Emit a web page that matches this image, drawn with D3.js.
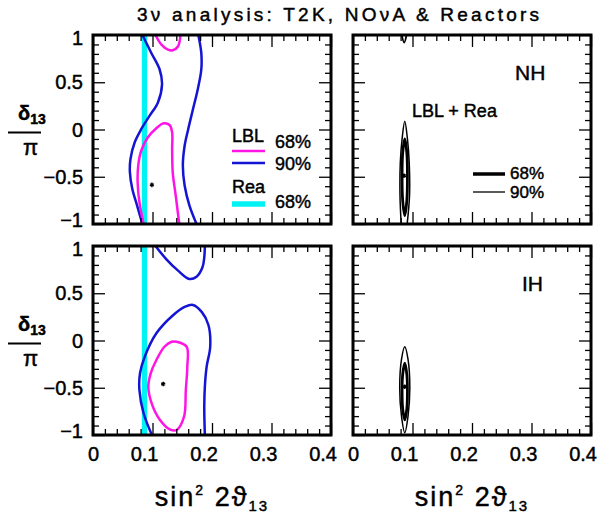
<!DOCTYPE html>
<html lang="en">
<meta charset="utf-8">
<head>
  <style>
    body { margin: 0; background: #fff; }
    svg text { font-family: "Liberation Sans", Arial, sans-serif; fill: #000; stroke: #000; stroke-width: 0.45px; }
    .tick line { stroke: #000; stroke-width: 1.3; }
  </style>
  <title></title>
</head>
<body>
<script src="https://d3js.org/d3.v7.min.js"></script>
<script>
  // axis ticks and labels
  const xTickValues = [0, 0.1, 0.2, 0.3, 0.4];
  const xTickLabels = ["0", "0.1", "0.2", "0.3", "0.4"];
  const yTickValues = [-1, -0.5, 0, 0.5, 1];
  const yTickLabels = ["\u22121", "\u22120.5", "0", "0.5", "1"];

  // reactor 68% band in sin^2 2theta13
  const reaBand = [0.082, 0.091];

  // contours: [sin^2 2theta13, delta13/pi]
  // NH, LBL only
  const nhLbl90Left = [[0.083, 1.0], [0.098, 0.81], [0.112, 0.635], [0.116, 0.477], [0.109, 0.284],
    [0.095, 0.144], [0.081, 0.003], [0.070, -0.137], [0.063, -0.312], [0.062, -0.453],
    [0.066, -0.628], [0.074, -0.803], [0.083, -1.0]];
  const nhLbl90Right = [[0.177, 1.0], [0.182, 0.81], [0.182, 0.635], [0.176, 0.424], [0.168, 0.214],
    [0.160, 0.003], [0.154, -0.172], [0.151, -0.382], [0.154, -0.593], [0.162, -0.803], [0.174, -1.0]];
  const nhLbl68Top = [[0.105, 1.0], [0.115, 0.898], [0.126, 0.845], [0.134, 0.838], [0.143, 0.881], [0.147, 1.0]];
  const nhLbl68Main = [[0.085, -1.0], [0.078, -0.768], [0.075, -0.558], [0.076, -0.382], [0.081, -0.225],
    [0.092, -0.084], [0.106, 0.011], [0.119, 0.066], [0.129, 0.045], [0.133, -0.032], [0.133, -0.207],
    [0.134, -0.453], [0.139, -0.698], [0.145, -1.0]];
  const nhLblBest = [0.099, -0.586];

  // IH, LBL only
  const ihLbl90Top = [[0.105, 1.0], [0.123, 0.862], [0.143, 0.739], [0.162, 0.651], [0.174, 0.675],
    [0.184, 0.775], [0.187, 0.88], [0.188, 1.0]];
  const ihLbl90Main = [[0.099, -1.0], [0.085, -0.77], [0.078, -0.524], [0.079, -0.347], [0.087, -0.171],
    [0.1065, 0.076], [0.135, 0.27], [0.155, 0.358], [0.168, 0.376], [0.183, 0.30], [0.194, 0.164],
    [0.197, -0.066], [0.191, -0.277], [0.188, -0.489], [0.187, -0.7], [0.188, -1.0]];
  const ihLbl68 = [[0.1406, -0.013], [0.1574, -0.066], [0.1585, -0.277], [0.156, -0.524], [0.153, -0.806],
    [0.1406, -0.947], [0.129, -0.94], [0.1126, -0.841], [0.0986, -0.665], [0.093, -0.489],
    [0.097, -0.347], [0.1065, -0.206], [0.120, -0.066], [0.132, -0.013]];
  const ihLblBest = [0.118, -0.46];

  // NH, LBL + Rea
  const nhComb90 = [[0.081, -1.0], [0.079, -0.7], [0.0795, -0.35], [0.0825, -0.1], [0.087, 0.087],
    [0.0915, -0.1], [0.0945, -0.35], [0.095, -0.7], [0.091, -1.0]];
  const nhComb90Top = [[0.082, 1.0], [0.086, 0.92], [0.090, 1.0]];
  const nhComb68 = [[0.087, -0.1], [0.0905, -0.25], [0.0915, -0.5], [0.0905, -0.75], [0.087, -0.91],
    [0.0835, -0.75], [0.0825, -0.5], [0.0835, -0.25]];
  const nhCombBest = [0.0857, -0.49];

  // IH, LBL + Rea
  const ihComb90 = [[0.087, -0.066], [0.0925, -0.2], [0.0955, -0.5], [0.0925, -0.8], [0.087, -0.975],
    [0.0815, -0.8], [0.0785, -0.5], [0.0815, -0.2]];
  const ihComb68 = [[0.087, -0.24], [0.0905, -0.36], [0.0915, -0.54], [0.0905, -0.72], [0.087, -0.84],
    [0.0835, -0.72], [0.0825, -0.54], [0.0835, -0.36]];
  const ihCombBest = [0.087, -0.49];

  const blue = "#1414d4", magenta = "#ff14e6", cyan = "#00f2f2";

  const panelW = 238, panelH = 189;
  const cols = [93, 353], rows = [35, 246];

  const x = d3.scaleLinear().domain([0, 0.4]).range([0, panelW]);
  const y = d3.scaleLinear().domain([-1, 1]).range([panelH, 0]);

  const openLine = d3.line().x(d => x(d[0])).y(d => y(d[1])).curve(d3.curveCatmullRom);
  const closedLine = d3.line().x(d => x(d[0])).y(d => y(d[1])).curve(d3.curveCatmullRomClosed);

  const panels = [
    {c: 0, r: 0, band: true, best: nhLblBest, curves: [
      {pts: nhLbl90Left, color: blue, w: 2.5}, {pts: nhLbl90Right, color: blue, w: 2.5},
      {pts: nhLbl68Top, color: magenta, w: 2.5}, {pts: nhLbl68Main, color: magenta, w: 2.5}]},
    {c: 1, r: 0, best: nhCombBest, curves: [
      {pts: nhComb90, color: "#000", w: 1.5}, {pts: nhComb90Top, color: "#000", w: 1.8},
      {pts: nhComb68, color: "#000", w: 2.8, closed: true}]},
    {c: 0, r: 1, band: true, best: ihLblBest, curves: [
      {pts: ihLbl90Top, color: blue, w: 2.5}, {pts: ihLbl90Main, color: blue, w: 2.5},
      {pts: ihLbl68, color: magenta, w: 2.5, closed: true}]},
    {c: 1, r: 1, best: ihCombBest, curves: [
      {pts: ihComb90, color: "#000", w: 1.5, closed: true},
      {pts: ihComb68, color: "#000", w: 2.8, closed: true}]}
  ];

  const svg = d3.select("body").append("svg")
      .attr("width", 606)
      .attr("height", 515);

  const minorX = d3.range(0.02, 0.4, 0.02).filter(v => Math.abs(v * 10 - Math.round(v * 10)) > 1e-6);
  const minorY = d3.range(-0.9, 1, 0.1).filter(v => Math.abs(v * 2 - Math.round(v * 2)) > 1e-6);

  panels.forEach(function (p, i) {
    const g = svg.append("g")
        .attr("transform", "translate(" + cols[p.c] + "," + rows[p.r] + ")");

    g.append("clipPath").attr("id", "clip" + i)
        .append("rect").attr("width", panelW).attr("height", panelH);

    const plot = g.append("g").attr("clip-path", "url(#clip" + i + ")");

    if (p.band) {
      plot.append("rect")
          .attr("x", x(reaBand[0]))
          .attr("width", x(reaBand[1]) - x(reaBand[0]))
          .attr("y", 0)
          .attr("height", panelH)
          .style("fill", cyan);
    }

    p.curves.forEach(function (cv) {
      plot.append("path")
          .attr("d", (cv.closed ? closedLine : openLine)(cv.pts))
          .style("fill", "none")
          .style("stroke", cv.color)
          .style("stroke-width", cv.w)
          .style("stroke-linejoin", "round");
    });

    plot.append("path")
        .attr("transform", "translate(" + x(p.best[0]) + "," + y(p.best[1]) + ")")
        .attr("d", d3.symbol(d3.symbolAsterisk, 14)())
        .style("fill", "none")
        .style("stroke", "#000")
        .style("stroke-width", 1.4);

    // ticks on all four sides, pointing inward
    const axes = [
      [d3.axisBottom(x), "translate(0," + panelH + ")", xTickValues, minorX],
      [d3.axisTop(x), "translate(0,0)", xTickValues, minorX],
      [d3.axisLeft(y), "translate(0,0)", yTickValues, minorY],
      [d3.axisRight(y), "translate(" + panelW + ",0)", yTickValues, minorY]
    ];
    axes.forEach(function (a) {
      [[a[2], 12], [a[3], 6]].forEach(function (set) {
        const ax = g.append("g")
            .attr("transform", a[1])
            .call(a[0].tickValues(set[0]).tickSize(-set[1]).tickFormat(""));
        ax.select(".domain").remove();
      });
    });

    g.append("rect")
        .attr("width", panelW)
        .attr("height", panelH)
        .style("fill", "none")
        .style("stroke", "#000")
        .style("stroke-width", 3);

    // tick labels
    if (p.r === 1) {
      g.selectAll(".xl")
          .data(xTickValues)
          .enter().append("text")
          .attr("x", d => x(d) + 6)
          .attr("y", panelH + 26)
          .style("text-anchor", "end")
          .style("font-size", "20px")
          .text((d, k) => xTickLabels[k]);
    }
    if (p.c === 0) {
      g.selectAll(".yl")
          .data(yTickValues)
          .enter().append("text")
          .attr("x", -10)
          .attr("y", d => Math.min(Math.max(y(d), 3), panelH - 4.5) + 7)
          .style("text-anchor", "end")
          .style("font-size", "20px")
          .text((d, k) => yTickLabels[k]);

      // y axis label delta13/pi
      const lab = g.append("g").attr("transform", "translate(-85," + (y(0) + 3) + ")");
      const t = lab.append("text").attr("x", 10).attr("y", -13).style("font-size", "20px")
          .style("font-weight", "bold");
      t.append("tspan").text("\u03b4");
      t.append("tspan").attr("dy", 4).style("font-size", "14px").text("13");
      lab.append("line").attr("x1", 0).attr("x2", 33).attr("y1", 0).attr("y2", 0)
          .style("stroke", "#000").style("stroke-width", 2);
      lab.append("text").attr("x", 15).attr("y", 22).style("font-size", "22px").text("\u03c0");
    }
    if (p.r === 1) {
      const t = g.append("text")
          .attr("x", panelW / 2)
          .attr("y", panelH + 71)
          .style("text-anchor", "middle")
          .style("font-size", "27px")
          .style("letter-spacing", "2px");
      t.append("tspan").text("sin");
      t.append("tspan").attr("dy", -11).style("font-size", "14px").text("2");
      t.append("tspan").attr("dy", 11).text(" 2\u03d1");
      t.append("tspan").attr("dy", 5).style("font-size", "15px").text("13");
    }
  });

  // title
  svg.append("text")
      .attr("x", 137)
      .attr("y", 21)
      .attr("textLength", 402)
      .attr("lengthAdjust", "spacing")
      .style("font-size", "19px")
      .text("3\u03bd analysis:  T2K,  NO\u03bdA  &  Reactors");

  // legend, top left panel
  const leg = svg.append("g");
  const legText = [["LBL", 232, 141.5], ["68%", 275, 148], ["90%", 275, 170], ["Rea", 232, 193], ["68%", 275, 208]];
  leg.selectAll("text").data(legText).enter().append("text")
      .attr("x", d => d[1])
      .attr("y", d => d[2])
      .style("font-size", "18px")
      .text(d => d[0]);
  const legLines = [[151, magenta, 2.5], [163, blue, 2.5], [204, cyan, 5.5]];
  leg.selectAll("line").data(legLines).enter().append("line")
      .attr("x1", 232).attr("x2", 265)
      .attr("y1", d => d[0]).attr("y2", d => d[0])
      .style("stroke", d => d[1])
      .style("stroke-width", d => d[2]);

  // right panels
  svg.append("text").attr("x", 515).attr("y", 79.5).style("font-size", "21px").text("NH");
  svg.append("text").attr("x", 522).attr("y", 290.5).style("font-size", "21px").text("IH");
  svg.append("text").attr("x", 412).attr("y", 116.5).style("font-size", "18px").text("LBL + Rea");
  const rl = [[174, 3.5, "68%", 178.5], [192, 1.3, "90%", 197.5]];
  rl.forEach(function (d) {
    svg.append("line").attr("x1", 473).attr("x2", 505).attr("y1", d[0]).attr("y2", d[0])
        .style("stroke", "#000").style("stroke-width", d[1]);
    svg.append("text").attr("x", 510).attr("y", d[3]).style("font-size", "17px").text(d[2]);
  });

</script>
</body>
</html>
